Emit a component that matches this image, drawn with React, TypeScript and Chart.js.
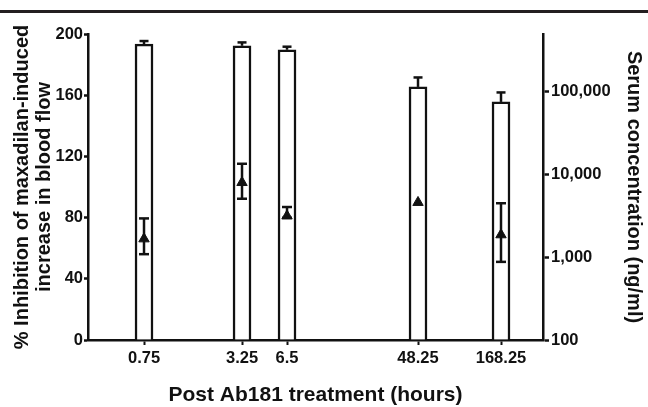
import React, { useEffect, useRef } from 'react';
import { Chart, registerables } from 'chart.js';

Chart.register(...registerables);

// ---- data ----
const categories = ['0.75', '3.25', '6.5', '48.25', '168.25'];
const slotPositions = [1.231, 3.385, 4.374, 7.253, 9.077];
const inhibitionMeans = [193.4, 192.3, 189.7, 165.4, 155.6];
const inhibitionErrors = [2.0, 2.2, 2.0, 6.2, 6.2];
const serumMeans = [1670, 8010, 3160, 4600, 1870];
const serumUpper = [2950, 13500, 4050, 4600, 4500];
const serumLower = [1090, 5100, 3000, 4600, 880];
const leftTicks = [0, 40, 80, 120, 160, 200];
const rightTicks = [100, 1000, 10000, 100000];

const INK = '#111111';
const FONT = '"Liberation Sans", Arial, sans-serif';

const errorBarPlugin = {
  id: 'errorBars',
  afterDatasetDraw(chart: any, args: any) {
    if (args.index !== 0) return;
    const { ctx } = chart;
    const xs = chart.scales.x;
    const ys = chart.scales.y;
    const ys2 = chart.scales.y2;
    const line = (x1: number, y1: number, x2: number, y2: number) => {
      ctx.beginPath();
      ctx.moveTo(x1, y1);
      ctx.lineTo(x2, y2);
      ctx.stroke();
    };
    ctx.save();
    ctx.strokeStyle = INK;
    ctx.lineWidth = 2.5;
    ctx.lineCap = 'butt';
    slotPositions.forEach((p, i) => {
      const px = xs.getPixelForValue(p);
      const base = ys.getPixelForValue(inhibitionMeans[i]);
      const top = ys.getPixelForValue(inhibitionMeans[i] + inhibitionErrors[i]);
      line(px, base, px, top);
      line(px - 4.5, top, px + 4.5, top);
      if (serumUpper[i] !== serumLower[i]) {
        const u = ys2.getPixelForValue(serumUpper[i]);
        const l = ys2.getPixelForValue(serumLower[i]);
        line(px, u, px, l);
        line(px - 5, u, px + 5, u);
        line(px - 5, l, px + 5, l);
      }
    });
    ctx.restore();
  },
};

export default function App() {
  const ref = useRef<HTMLCanvasElement>(null);

  useEffect(() => {
    if (!ref.current) return;
    const chart = new Chart(ref.current, {
      type: 'bar',
      data: {
        datasets: [
          {
            type: 'bar',
            label: 'Inhibition',
            data: slotPositions.map((p, i) => ({ x: p, y: inhibitionMeans[i] })),
            backgroundColor: '#ffffff',
            borderColor: INK,
            borderWidth: 2.5,
            barThickness: 18,
            yAxisID: 'y',
            xAxisID: 'x',
            order: 2,
          } as any,
          {
            type: 'line',
            label: 'Serum',
            data: slotPositions.map((p, i) => ({ x: p, y: serumMeans[i] })),
            showLine: false,
            pointStyle: 'triangle',
            pointRadius: 6,
            pointBackgroundColor: INK,
            pointBorderColor: INK,
            pointBorderWidth: 1,
            yAxisID: 'y2',
            xAxisID: 'x',
            order: 1,
          } as any,
        ],
      },
      options: {
        responsive: false,
        animation: false,
        devicePixelRatio: 1,
        layout: { padding: { top: 34, left: 0, right: 0, bottom: 0 } },
        plugins: { legend: { display: false }, tooltip: { enabled: false } },
        scales: {
          x: {
            type: 'linear',
            min: 0,
            max: 10,
            offset: false,
            grid: {
              display: true,
              drawOnChartArea: false,
              drawTicks: true,
              tickLength: 5,
              tickWidth: 2,
              tickColor: INK,
              offset: false,
            },
            border: { display: true, color: INK, width: 2.5 },
            afterBuildTicks: (s: any) => {
              s.ticks = slotPositions.map((v) => ({ value: v }));
            },
            afterFit: (s: any) => {
              s.height = 67;
            },
            ticks: {
              autoSkip: false,
              maxRotation: 0,
              padding: 4,
              color: INK,
              font: { family: FONT, size: 16.5, weight: 'bold' },
              callback: (v: any) => {
                const i = slotPositions.indexOf(Number(v));
                return i >= 0 ? categories[i] : '';
              },
            },
            title: {
              display: true,
              text: 'Post Ab181 treatment (hours)',
              color: INK,
              font: { family: FONT, size: 21, weight: 'bold', lineHeight: 1.1 },
              padding: { top: 0, bottom: 0 },
            },
          },
          y: {
            type: 'linear',
            position: 'left',
            min: 0,
            max: 200,
            grid: {
              display: true,
              drawOnChartArea: false,
              drawTicks: true,
              tickLength: 4,
              tickWidth: 2.5,
              tickColor: INK,
            },
            border: { display: true, color: INK, width: 2.5 },
            afterBuildTicks: (s: any) => {
              s.ticks = leftTicks.map((v) => ({ value: v }));
            },
            afterFit: (s: any) => {
              s.width = 88;
            },
            ticks: {
              padding: 1,
              color: INK,
              font: { family: FONT, size: 16.5, weight: 'bold' },
            },
            title: {
              display: true,
              text: ['% Inhibition of maxadilan-induced', 'increase in blood flow'],
              color: INK,
              font: { family: FONT, size: 20, weight: 'bold', lineHeight: 1.1 },
              padding: { top: 11, bottom: 0 },
            },
          },
          y2: {
            type: 'logarithmic',
            position: 'right',
            min: 100,
            max: 500000,
            grid: {
              display: true,
              drawOnChartArea: false,
              drawTicks: true,
              tickLength: 6,
              tickWidth: 2.5,
              tickColor: INK,
            },
            border: { display: true, color: INK, width: 2.5 },
            afterBuildTicks: (s: any) => {
              s.ticks = rightTicks.map((v) => ({ value: v }));
            },
            afterFit: (s: any) => {
              s.width = 105;
            },
            ticks: {
              padding: 2,
              color: INK,
              font: { family: FONT, size: 16.5, weight: 'bold' },
              callback: (v: any) => Number(v).toLocaleString('en-US'),
            },
            title: {
              display: true,
              text: 'Serum concentration (ng/ml)',
              color: INK,
              font: { family: FONT, size: 20, weight: 'bold', lineHeight: 1.1 },
              padding: { top: 3, bottom: 0 },
            },
          },
        },
      } as any,
      plugins: [errorBarPlugin],
    });
    return () => chart.destroy();
  }, []);

  return (
    <div style={{ position: 'fixed', left: 0, top: 0, width: 648, height: 407, background: '#fff' }}>
      <div style={{ position: 'absolute', left: 0, top: 10, width: 648, height: 3, background: '#231f20' }} />
      <canvas ref={ref} width={648} height={407} style={{ display: 'block', width: 648, height: 407 }} />
    </div>
  );
}
